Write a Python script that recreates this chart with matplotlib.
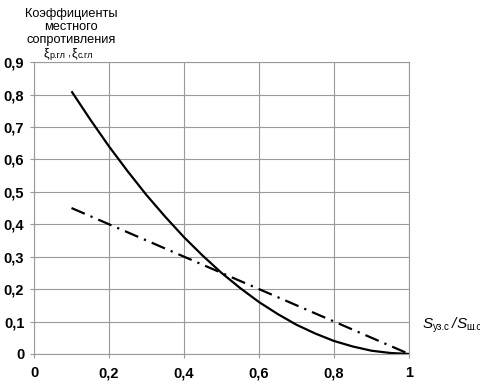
import matplotlib
matplotlib.use("Agg")
import matplotlib.pyplot as plt
from matplotlib.ticker import FuncFormatter

# relative area S_уз.с / S_ш.с
X_SOLID = [0.1, 0.15, 0.2, 0.25, 0.3, 0.35, 0.4, 0.45, 0.5, 0.55,
           0.6, 0.65, 0.7, 0.75, 0.8, 0.85, 0.9, 0.95, 1.0]
Y_SOLID = [0.81, 0.723, 0.64, 0.563, 0.49, 0.423, 0.36, 0.303, 0.25, 0.203,
           0.16, 0.123, 0.09, 0.063, 0.04, 0.023, 0.01, 0.003, 0.0]
X_DASH = [0.1, 1.0]
Y_DASH = [0.45, 0.0]

X_TICKS = [0, 0.2, 0.4, 0.6, 0.8, 1.0]
Y_TICKS = [0, 0.1, 0.2, 0.3, 0.4, 0.5, 0.6, 0.7, 0.8, 0.9]

plt.rcParams["font.family"] = ["Liberation Sans", "DejaVu Sans"]

W, H = 481, 381
GRID = "#9a9a9a"


def comma(v, pos):
    if abs(v) < 1e-9:
        return "0"
    if abs(v - 1) < 1e-9:
        return "1"
    return f"{v:.1f}".replace(".", ",")


def text_run(fig, x, y, pieces):
    # x, y in pixels from top-left; pieces: (text, size, style, dy_px, gap_px)
    renderer = fig.canvas.get_renderer()
    for txt, size, style, dy, gap in pieces:
        x += gap
        t = fig.text(x / W, 1 - (y + dy) / H, txt, fontsize=size,
                     style=style, ha="left", va="baseline")
        x += t.get_window_extent(renderer).width


def main():
    fig = plt.figure(figsize=(4.81, 3.81), dpi=100)
    ax = fig.add_axes([0.0707, 0.071, 0.7796, 0.766])

    ax.plot(X_SOLID, Y_SOLID, color="black", lw=1.6, solid_capstyle="butt")
    ax.plot(X_DASH, Y_DASH, color="black", lw=1.6,
            dashes=(6.5, 2.8, 1, 2.8), dash_capstyle="butt")

    ax.set_xlim(0, 1)
    ax.set_ylim(0, 0.9)
    ax.set_xticks(X_TICKS)
    ax.set_yticks(Y_TICKS)
    ax.xaxis.set_major_formatter(FuncFormatter(comma))
    ax.yaxis.set_major_formatter(FuncFormatter(comma))
    ax.tick_params(axis="both", length=3, width=0.8, color=GRID, pad=4,
                   labelsize=10.5)
    for lab in ax.get_xticklabels() + ax.get_yticklabels():
        lab.set_fontweight("bold")
    ax.tick_params(axis="x", pad=6)
    ax.grid(True, color=GRID, lw=0.8)
    for sp in ax.spines.values():
        sp.set_color(GRID)
        sp.set_linewidth(0.8)

    fig.text(71 / W, 1 - 27 / H,
             "Коэффициенты\nместного\nсопротивления",
             ha="center", va="center", fontsize=9.2, linespacing=1.15)

    text_run(fig, 44, 56, [
        ("ξ", 9, "normal", 0, 0),
        ("р.гл", 6.5, "normal", 2, 0),
        (",", 8, "normal", 0, 1),
        ("ξ", 9, "normal", 0, 2),
        ("с.гл", 6.5, "normal", 2, 0),
    ])
    text_run(fig, 423, 328, [
        ("S", 11, "italic", 0, 0),
        ("уз.с", 7, "normal", 2, 0),
        ("/", 11, "italic", 0, 2),
        ("S", 11, "italic", 0, 0),
        ("ш.с", 7, "normal", 2, 0),
    ])

    fig.savefig("out.png", dpi=100)


if __name__ == "__main__":
    main()
